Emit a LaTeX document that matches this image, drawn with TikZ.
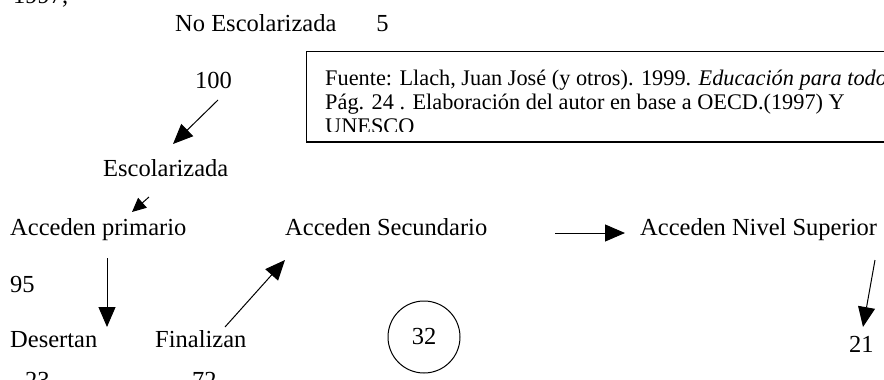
\documentclass[tikz,border=0pt]{standalone}
\usepackage{fontspec}
\setmainfont{Liberation Serif}
\usetikzlibrary{arrows.meta}
\begin{document}
\begin{tikzpicture}[x=1pt,y=-1pt,
  lbl/.style={anchor=base west,inner sep=0pt,font=\fontsize{24.5}{28}\selectfont},
  src/.style={anchor=base west,inner sep=0pt,align=left,font=\fontsize{22.3}{24}\selectfont},
  arr/.style={line width=1pt,-{Triangle[length=20pt,width=17pt]}},
  sarr/.style={line width=1pt,-{Triangle[length=14pt,width=13pt]}},
  frame/.style={line width=1.1pt}]
\useasboundingbox (0,0) rectangle (884,380);
\begin{scope}
\clip (0,0) rectangle (884,380);
% cut-off fragment at top
\node[lbl] (frag) at (13,4) {1997,};
% labels
\node[lbl] (noesc) at (175,31) {No Escolarizada\hspace{40pt}5};
\node[lbl] (cien) at (195,88) {100};
\node[lbl] (esc) at (103,176) {Escolarizada};
\node[lbl] (prim) at (10,235) {Acceden primario};
\node[lbl] (sec) at (285,235) {Acceden Secundario};
\node[lbl] (sup) at (640,235) {Acceden Nivel Superior};
\node[lbl] (n95) at (10,292) {95};
\node[lbl] (des) at (10,347) {Desertan};
\node[lbl] (fin) at (155,347) {Finalizan};
\node[lbl] (n23) at (25,388) {23};
\node[lbl] (n72) at (192,388) {72};
\node[lbl] (n21) at (849,352) {21};
\node[circle,draw,line width=1pt,minimum size=72pt,inner sep=0pt,
      font=\fontsize{24.5}{28}\selectfont] (c32) at (424,337) {32};
% source box
\draw[frame] (884,51.5) -- (306.5,51.5) -- (306.5,142) -- (884,142);
\begin{scope}
\clip (306,52) rectangle (884,131);
\node[src] (fuente) at (325,133) {Fuente: Llach, Juan José (y otros). 1999. \textit{Educación para todos}\\
Pág. 24 . Elaboración del autor en base a OECD.(1997) Y\\
UNESCO};
\end{scope}
% connector end points
\coordinate (a1s) at (218,100); \coordinate (a1e) at (173,144);
\coordinate (a2s) at (149,197); \coordinate (a2e) at (132,212);
\coordinate (a3s) at (107,258); \coordinate (a3e) at (107,327);
\coordinate (a4s) at (225,327); \coordinate (a4e) at (285,260);
\coordinate (a5s) at (555,233); \coordinate (a5e) at (625,233);
\coordinate (a6s) at (875,260); \coordinate (a6e) at (863,327);
\draw[arr] (a1s) -- (a1e);
\draw[sarr] (a2s) -- (a2e);
\draw[arr] (a3s) -- (a3e);
\draw[arr] (a4s) -- (a4e);
\draw[arr] (a5s) -- (a5e);
\draw[arr] (a6s) -- (a6e);
\end{scope}
\end{tikzpicture}
\end{document}
